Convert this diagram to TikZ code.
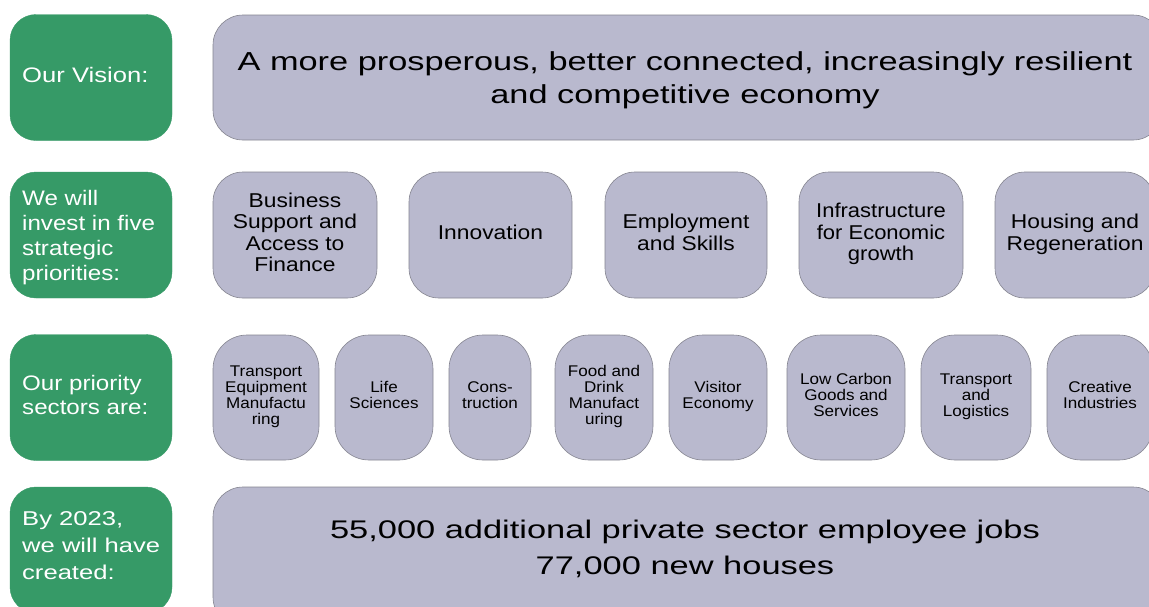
\documentclass[tikz,border=0pt]{standalone}
\usepackage{graphicx}
\usepackage{fontspec}
\setmainfont{Liberation Sans}
\definecolor{vgreen}{HTML}{369A67}
\definecolor{vgrey}{HTML}{B9B9CE}
\definecolor{vline}{HTML}{858590}
\newcommand{\sttext}[3]{\scalebox{#1}[1]{\begin{tabular}{@{}#2@{}}#3\end{tabular}}}
\begin{document}
\begin{tikzpicture}[x=1pt,y=-1pt,
  gbox/.style={fill=vgreen,draw=vgreen,rounded corners=26pt,minimum width=162pt,minimum height=126pt,inner sep=0pt},
  gtext/.style={anchor=west,text=white,inner sep=0pt},
  pbox/.style={fill=vgrey,draw=vline,line width=0.6pt,inner sep=0pt},
  big/.style={pbox,rounded corners=30pt},
  mid/.style={pbox,rounded corners=30pt,minimum height=126pt,font=\fontsize{20}{21.5}\selectfont},
  sml/.style={pbox,rounded corners=34pt,minimum height=125pt,font=\fontsize{15.5}{16}\selectfont}]
\useasboundingbox (0,0) rectangle (1149,606);
\clip (0,0) rectangle (1149,606);
\fill[white] (0,0) rectangle (1149,606);
% green labels
\node[gbox] (g1) at (91,77.5) {};
\node[gbox] (g2) at (91,235) {};
\node[gbox] (g3) at (91,397.5) {};
\node[gbox] (g4) at (91,550) {};
\node[gtext,font=\fontsize{21}{24.5}\selectfont] (t1) at (22,78) {\sttext{1.22}{l}{Our Vision:}};
\node[gtext,font=\fontsize{21}{25}\selectfont] (t2) at (22,238) {\sttext{1.15}{l}{We will\\invest in five\\strategic\\priorities:}};
\node[gtext,font=\fontsize{21}{24}\selectfont] (t3) at (22,398) {\sttext{1.15}{l}{Our priority\\sectors are:}};
\node[gtext,font=\fontsize{20}{27}\selectfont] (t4) at (22,547) {\sttext{1.28}{l}{By 2023,\\we will have\\created:}};
% row 1
\node[big,minimum width=950pt,minimum height=125pt] (v) at (688,77.5) {};
\node[inner sep=0pt,font=\fontsize{26}{33}\selectfont] (vt) at (685,80) {\sttext{1.32}{c}{A more prosperous, better connected, increasingly resilient\\and competitive economy}};
% row 2
\node[mid,minimum width=164pt] (p1) at (295,235) {\sttext{1.14}{c}{Business\\Support and\\Access to\\Finance}};
\node[mid,minimum width=163pt] (p2) at (490.5,235) {\sttext{1.14}{c}{Innovation}};
\node[mid,minimum width=162pt] (p3) at (686,235) {\sttext{1.14}{c}{Employment\\and Skills}};
\node[mid,minimum width=164pt] (p4) at (881,235) {\sttext{1.1}{c}{Infrastructure\\for Economic\\growth}};
\node[mid,minimum width=160pt] (p5) at (1075,235) {\sttext{1.14}{c}{Housing and\\Regeneration}};
% row 3
\node[sml,minimum width=106pt] (s1) at (266,397.5) {\sttext{1.1}{c}{Transport\\Equipment\\Manufactu\\ring}};
\node[sml,minimum width=98pt] (s2) at (384,397.5) {\sttext{1.1}{c}{Life\\Sciences}};
\node[sml,minimum width=82pt] (s3) at (490,397.5) {\sttext{1.1}{c}{Cons-\\truction}};
\node[sml,minimum width=98pt] (s4) at (604,397.5) {\sttext{1.1}{c}{Food and\\Drink\\Manufact\\uring}};
\node[sml,minimum width=98pt] (s5) at (718,397.5) {\sttext{1.1}{c}{Visitor\\Economy}};
\node[sml,minimum width=118pt] (s6) at (846,397.5) {\sttext{1.1}{c}{Low Carbon\\Goods and\\Services}};
\node[sml,minimum width=110pt] (s7) at (976,397.5) {\sttext{1.1}{c}{Transport\\and\\Logistics}};
\node[sml,minimum width=106pt] (s8) at (1100,397.5) {\sttext{1.1}{c}{Creative\\Industries}};
% row 4
\node[big,minimum width=950pt,minimum height=140pt] (r) at (688,557) {};
\node[inner sep=0pt,font=\fontsize{25.5}{36}\selectfont] (rt) at (685,549.5) {\sttext{1.35}{c}{55,000 additional private sector employee jobs\\77,000 new houses}};
\end{tikzpicture}
\end{document}
